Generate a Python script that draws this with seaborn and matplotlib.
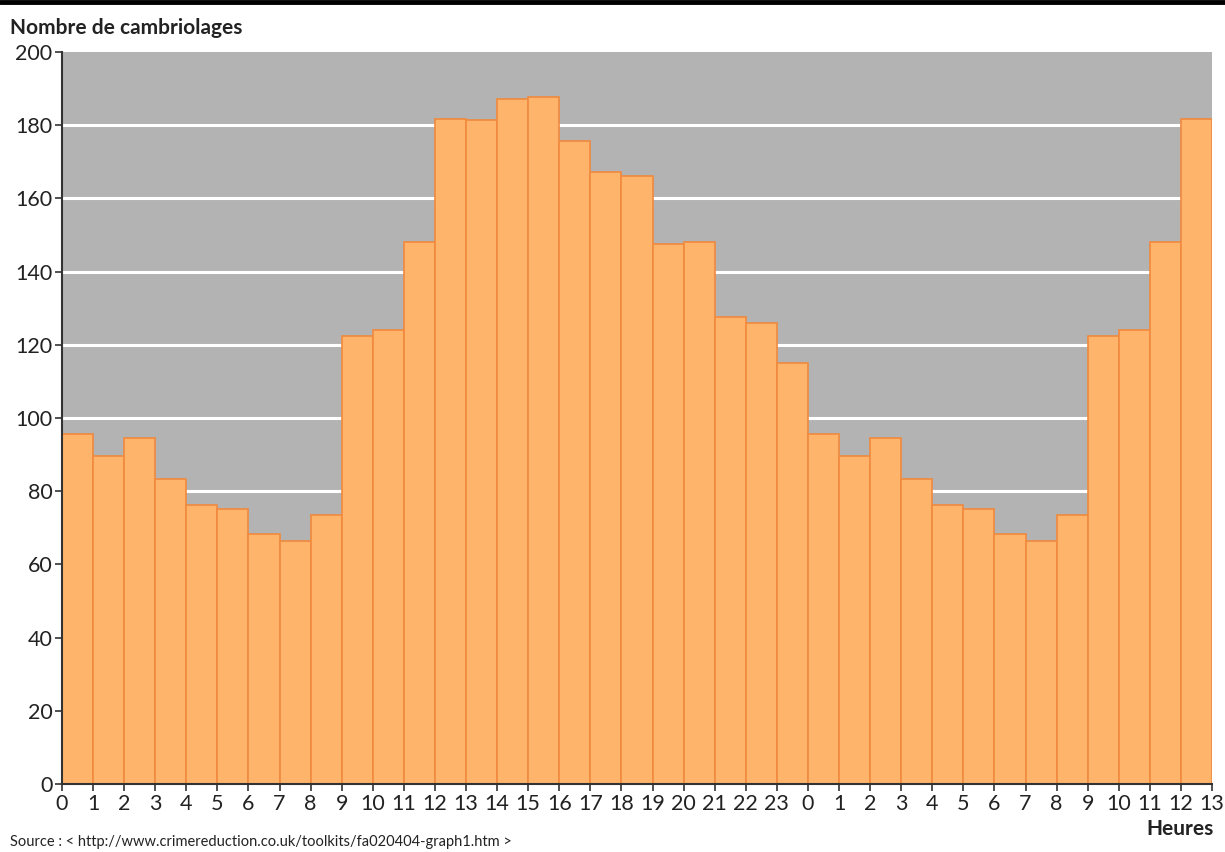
import matplotlib
matplotlib.use("Agg")
import matplotlib.pyplot as plt
import seaborn as sns
import numpy as np
import pandas as pd

hour_labels = ["0", "1", "2", "3", "4", "5", "6", "7", "8", "9", "10", "11", "12",
               "13", "14", "15", "16", "17", "18", "19", "20", "21", "22", "23",
               "0", "1", "2", "3", "4", "5", "6", "7", "8", "9", "10", "11", "12", "13"]
burglaries = [95.5, 89.7, 94.4, 83.3, 76.3, 75.2, 68.3, 66.4, 73.6, 122.3, 124.1, 148.2,
              181.6, 181.3, 187.2, 187.8, 175.8, 167.3, 166.2, 147.5, 148.2, 127.5, 126.0, 115.1,
              95.5, 89.7, 94.4, 83.3, 76.3, 75.2, 68.3, 66.4, 73.6, 122.3, 124.1, 148.2, 181.6]
y_ticks = [0, 20, 40, 60, 80, 100, 120, 140, 160, 180, 200]

sns.set_theme(style="white")
plt.rcParams['font.family'] = ['Lato', 'DejaVu Sans']

fig = plt.figure(figsize=(12.25, 8.52), dpi=100)
ax = fig.add_axes([62/1225, 1-784/852, (1212-62)/1225, (784-52)/852])
ax.set_facecolor("#b3b3b3")

df = pd.DataFrame({"slot": np.arange(len(burglaries)), "n": burglaries})
sns.barplot(data=df, x="slot", y="n", ax=ax, width=1.0, color="#ffb46c",
            saturation=1, edgecolor="#f08a3e", linewidth=1.2, zorder=3)

ax.set_ylim(0, 200)
ax.set_xlim(-0.5, len(burglaries) - 0.5)
ax.set_yticks(y_ticks)
ax.set_yticklabels([str(v) for v in y_ticks], fontsize=15.5, color="#222222")
ax.set_xticks(np.arange(len(hour_labels)) - 0.5)
ax.set_xticklabels(hour_labels, fontsize=15.5, color="#222222")
for v in y_ticks[1:-1]:
    ax.axhline(v, color="white", linewidth=2.2, zorder=1)

for s in ["top", "right"]:
    ax.spines[s].set_visible(False)
for s in ["left", "bottom"]:
    ax.spines[s].set_color("#333333")
    ax.spines[s].set_linewidth(1.5)
    ax.spines[s].set_zorder(5)
ax.tick_params(axis="both", which="both", direction="out", length=5, width=1.2,
               color="#333333", pad=2, left=True, bottom=True)
ax.set_xlabel("")
ax.set_ylabel("")

fig.text(10/1225, 1-28/852, "Nombre de cambriolages", fontsize=15, fontweight="bold",
         color="#222222", va="center", ha="left")
fig.text(1146/1225, 1-829/852, "Heures", fontsize=15, fontweight="bold",
         color="#222222", va="center", ha="left")
fig.text(10/1225, 1-842/852, "Source : < http://www.crimereduction.co.uk/toolkits/fa020404-graph1.htm >",
         fontsize=10.5, color="#222222", va="center", ha="left")
fig.add_artist(plt.Line2D([0, 1], [1-2/852, 1-2/852], color="black", linewidth=3.5,
                          transform=fig.transFigure))

fig.savefig("out.png", dpi=100)
